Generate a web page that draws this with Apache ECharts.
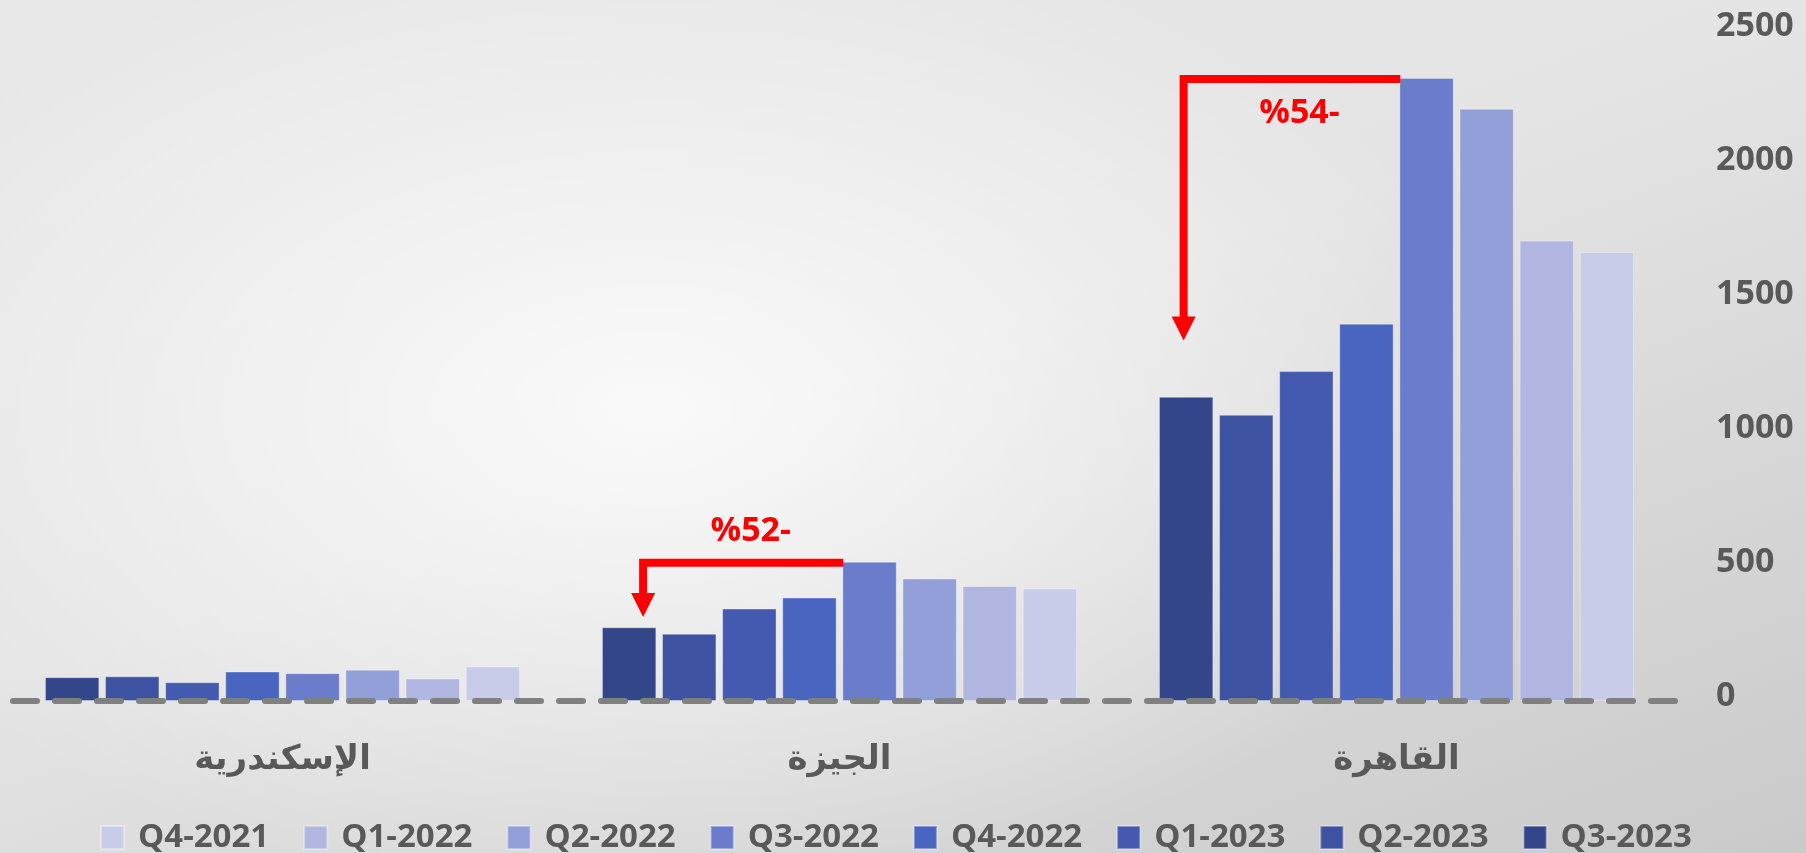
<!DOCTYPE html>
<html>
<head>
<meta charset="utf-8">
<script src="https://cdn.jsdelivr.net/npm/echarts@6/dist/echarts.min.js"></script>
<style>
    html, body { margin: 0; padding: 0; }
    body {
        width: 1806px;
        height: 853px;
        background:
            radial-gradient(ellipse 48% 58% at 36% 48%, rgba(255,255,255,0.8), rgba(255,255,255,0) 100%),
            linear-gradient(160deg, #e8e8e8 0%, #e4e4e4 45%, #cacaca 100%);
    }
    #main { width: 1806px; height: 853px; }
</style>
</head>
<body>
<div id="main"></div>
<script>
// المحافظات
var cities = ['الإسكندرية', 'الجيزة', 'القاهرة'];
// الفصول - ترتيب الأعمدة من اليسار
var quarters = ['Q3-2023', 'Q2-2023', 'Q1-2023', 'Q4-2022', 'Q3-2022', 'Q2-2022', 'Q1-2022', 'Q4-2021'];
var legendOrder = ['Q4-2021', 'Q1-2022', 'Q2-2022', 'Q3-2022', 'Q4-2022', 'Q1-2023', 'Q2-2023', 'Q3-2023'];
var colors = ['#324689', '#3d52a1', '#4459b0', '#4a65c0', '#6a7ccb', '#939fd8', '#b0b6e0', '#c9cce9'];

// القيم لكل فصل: [الإسكندرية, الجيزة, القاهرة]
var q3_2023 = [89, 275, 1135];
var q2_2023 = [92, 251, 1068];
var q1_2023 = [70, 345, 1231];
var q4_2022 = [110, 386, 1408];
var q3_2022 = [104, 520, 2325];
var q2_2022 = [117, 457, 2210];
var q1_2022 = [84, 429, 1718];
var q4_2021 = [129, 420, 1675];
var values = [q3_2023, q2_2023, q1_2023, q4_2022, q3_2022, q2_2022, q1_2022, q4_2021];

var yTicks = [0, 500, 1000, 1500, 2000, 2500];

// الأسهم: من Q3-2022 الى Q3-2023
var arrowCities = ['الجيزة', 'القاهرة'];
var arrowTexts = ['%52-', '%54-'];
var arrowTips = [313, 1345];

var chart = echarts.init(document.getElementById('main'));

var series = [];
for (var i = 0; i < quarters.length; i++) {
    series.push({
        name: quarters[i],
        type: 'bar',
        data: values[i],
        barGap: '10.5%',
        barCategoryGap: '14.7%',
        itemStyle: {
            color: colors[i],
            borderColor: 'rgba(255,255,255,0.35)',
            borderWidth: 1
        }
    });
}

var option = {
    animation: false,
    backgroundColor: 'transparent',
    grid: {
        left: 4,
        right: 131,
        top: 31,
        bottom: 152
    },
    legend: {
        data: legendOrder,
        left: 95,
        top: 816,
        itemWidth: 23,
        itemHeight: 23,
        itemGap: 34,
        icon: 'rect',
        textStyle: {
            color: '#595959',
            fontFamily: 'Open Sans',
            fontWeight: 'bold',
            fontSize: 33,
            padding: [0, 0, 0, 9]
        }
    },
    xAxis: {
        type: 'category',
        data: cities,
        z: 10,
        axisTick: { show: false },
        axisLine: {
            lineStyle: {
                color: '#808080',
                width: 6,
                type: [24, 18],
                dashOffset: 33
            }
        },
        axisLabel: {
            color: '#595959',
            fontFamily: 'DejaVu Sans',
            fontWeight: 'bold',
            fontSize: 34,
            margin: 42
        }
    },
    yAxis: {
        type: 'value',
        position: 'right',
        min: yTicks[0],
        max: yTicks[yTicks.length - 1],
        interval: 500,
        splitLine: { show: false },
        axisLine: { show: false },
        axisTick: { show: false },
        axisLabel: {
            color: '#595959',
            fontFamily: 'Open Sans',
            fontWeight: 'bold',
            fontSize: 34,
            margin: 41,
            verticalAlign: 'bottom',
            lineHeight: 9,
            formatter: function (v) { return String(v); }
        }
    },
    series: series
};
chart.setOption(option);

// رسم الأسهم الحمراء
function barLayout(si, ci) {
    var data = chart.getModel().getSeriesByIndex(si).getData();
    return data.getItemLayout(ci);
}

function drawArrows() {
    var fromIdx = quarters.indexOf('Q3-2022');
    var toIdx = quarters.indexOf('Q3-2023');
    var elems = [];
    var xShift = [14, -2.5];
    var textDy = [-31, 34];
    for (var k = 0; k < arrowCities.length; k++) {
        var ci = cities.indexOf(arrowCities[k]);
        var from = barLayout(fromIdx, ci);
        var to = barLayout(toIdx, ci);
        var yLine = from.y + from.height + 1;
        var xv = to.x + to.width / 2 + xShift[k];
        var tip = chart.convertToPixel({ yAxisIndex: 0 }, arrowTips[k]);
        var headTop = tip - 24;
        elems.push({
            type: 'polyline',
            z: 20,
            shape: { points: [[from.x + 1, yLine], [xv, yLine], [xv, headTop + 2]] },
            style: { stroke: '#ff0000', lineWidth: 8, fill: null, lineJoin: 'miter', lineCap: 'butt' }
        });
        elems.push({
            type: 'polygon',
            z: 20,
            shape: { points: [[xv - 12, headTop], [xv + 12, headTop], [xv, tip]] },
            style: { fill: '#ff0000' }
        });
        elems.push({
            type: 'text',
            z: 20,
            x: (from.x + xv) / 2 + 8,
            y: yLine + textDy[k],
            style: {
                text: arrowTexts[k],
                fill: '#ff0000',
                font: 'bold 34px "Open Sans"',
                align: 'center',
                verticalAlign: 'middle'
            }
        });
    }
    chart.setOption({ graphic: elems });
}
drawArrows();
</script>
</body>
</html>
